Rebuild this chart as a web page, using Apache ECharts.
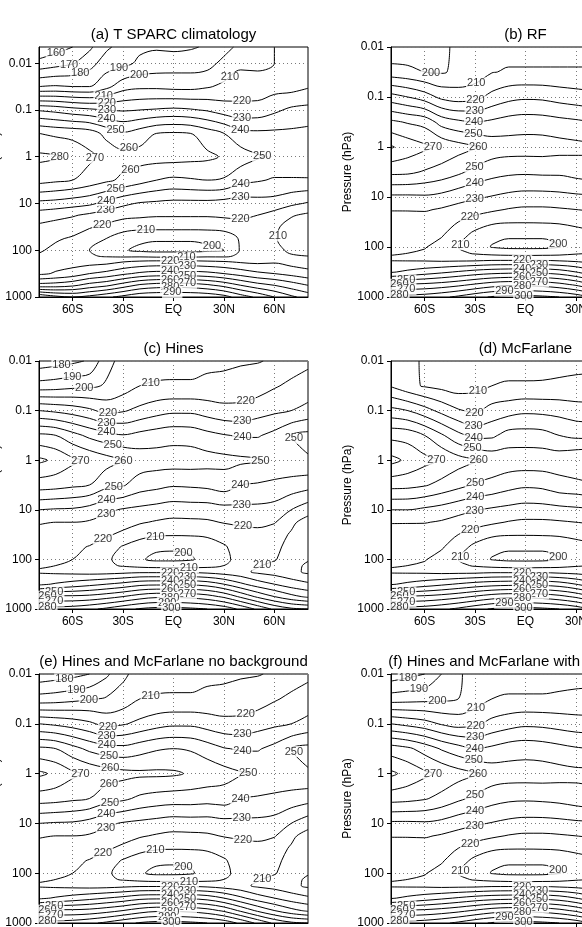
<!DOCTYPE html>
<html>
<head>
<meta charset="utf-8">
<script src="https://cdn.jsdelivr.net/npm/echarts@6/dist/echarts.min.js"></script>
<style>
  html, body { margin: 0; padding: 0; background: #fff; }
  #chart { width: 582px; height: 927px; }
</style>
</head>
<body>
<div id="chart"></div>
<script>
// latitude columns of the temperature grids (deg, negative = south)
const lats = [-80, -70, -60, -50, -40, -30, -20, -10, 0, 10, 20, 30, 40, 50, 60, 70, 80]
// panels b, d, f are cut off at the right edge of the figure
const latsCut = [-80, -70, -60, -50, -40, -30, -20, -10, 0, 10, 20, 30, 40]
// pressure levels of the grid rows (hPa), surface first
const levelsA = [1000, 562, 316, 178, 133, 100, 56.2, 31.6, 17.8, 10, 3.16, 1, 0.316, 0.1, 0.0316, 0.01, 0.0045]
const levels = [1000, 562, 316, 178, 133, 100, 56.2, 31.6, 17.8, 10, 3.16, 1, 0.316, 0.1, 0.0316, 0.01]
const contourLevels = [150, 160, 170, 180, 190, 200, 210, 220, 230, 240, 250, 260, 270, 280, 290, 300, 310]
const latTicks = [-60, -30, 0, 30, 60]
const latLabels = ['60S', '30S', 'EQ', '30N', '60N']
const pTicks = [1000, 100, 10, 1, 0.1, 0.01]
const pLabels = ['1000', '100', '10', '1', '0.1', '0.01']
const titles = [
  '(a) T SPARC climatology',
  '(b) RF',
  '(c) Hines',
  '(d) McFarlane',
  '(e) Hines and McFarlane no background',
  '(f) Hines and McFarlane with background'
]

// zonal mean temperature (K), one row per pressure level
const tempA = [
  [290, 283, 280, 283, 288, 293, 298, 299, 299, 299, 298, 294, 285, 278, 270, 262, 256],
  [244, 245, 248, 254, 258, 265, 272, 275, 276, 275, 272, 267, 260, 254, 250, 245, 240],
  [218, 221, 224, 230, 233, 238, 242, 244, 244, 244, 243, 240, 236, 232, 230, 227, 224],
  [217, 216, 216, 216, 217, 220, 222, 223, 223, 223, 222, 221, 219, 218, 219, 216, 214],
  [219, 216, 214, 211, 209, 208, 208, 207, 207, 207, 208, 208, 212, 213, 215, 211, 210],
  [221, 218, 215, 210, 206, 201, 198, 197, 197, 197, 198, 200, 211, 212, 213, 208, 207],
  [224, 221, 219, 214, 210, 205, 202, 201, 201, 201, 202, 205, 211, 213, 211, 205, 203],
  [228, 226, 224, 221, 218, 214, 213, 213, 213, 213, 213, 213, 216, 215, 212, 206, 203],
  [235, 233, 231, 228, 225, 223, 222, 221, 221, 221, 221, 222, 222, 220, 216, 211, 208],
  [247, 246, 244, 242, 237, 232, 229, 228, 227, 227, 227, 226, 225, 226, 226, 222, 219],
  [274, 272, 270, 266, 262, 258, 254, 250, 248, 249, 250, 249, 243, 241, 239, 239, 239],
  [282, 281, 277, 272, 267, 264, 264, 264, 264, 263, 262, 259, 255, 251, 248, 248, 249],
  [270, 268, 267, 265, 257, 251, 255, 260, 261, 260, 255, 250, 243, 242, 242, 242, 243],
  [239, 237, 234, 232, 230, 229, 230, 231, 232, 231, 229, 225, 223, 224, 228, 232, 233],
  [190, 191, 190, 190, 197, 206, 208, 208, 207, 207, 209, 212, 215, 214, 216, 216, 219],
  [163, 166, 169, 176, 185, 187, 192, 194, 195, 195, 196, 203, 208, 208, 210, 211, 211],
  [152, 156, 160, 168, 178, 184, 188, 189, 188, 189, 191, 196, 203, 207, 210, 211, 211]
]
const tempB = [
  [285, 284, 285, 288, 292, 297, 301, 303, 303, 302, 300, 296, 289],
  [260, 261, 262, 264, 267, 271, 275, 277, 277, 276, 273, 268, 260],
  [229, 232, 235, 238, 241, 244, 246, 247, 247.5, 247, 245, 240, 233],
  [219, 218.5, 218, 217, 217, 217, 218, 218, 218, 218, 217, 216, 215],
  [220.5, 220, 219, 216, 212, 209, 207, 206, 205.5, 206, 207, 209, 210],
  [222, 221.5, 220.5, 217, 210, 205, 199.5, 198, 198, 198, 199.5, 205, 208],
  [223.5, 223, 222, 221, 215, 207, 202, 201, 201, 201, 202, 206, 208],
  [226, 225.5, 224.5, 225, 220, 216, 212, 210.7, 210.6, 210.8, 211.4, 212.5, 214],
  [230.5, 230.6, 231, 229, 226.5, 223.6, 221.6, 219.4, 218.3, 218.3, 219, 220, 221],
  [238, 238, 238.5, 237, 233.7, 231.4, 229.4, 227.4, 226.3, 226.3, 227, 228, 228.5],
  [262.5, 262, 259, 256, 252, 247, 243.7, 242, 241.5, 242, 242, 244, 246],
  [281, 276, 272, 268, 264, 261, 256, 255, 255, 255, 254, 253, 252],
  [262, 259, 256.5, 246, 242, 240, 241.7, 244, 245, 244.5, 243, 241.7, 240],
  [234, 230, 225, 217.5, 215, 217, 223, 227, 228.4, 228, 226, 224.4, 223],
  [204, 202.5, 200, 199, 202, 204, 209.5, 211, 211, 211, 211, 211, 211],
  [192, 193, 195, 198, 202, 205, 206, 206, 206, 206, 206, 206, 206]
]
const tempC = [
  [285, 284, 285, 288, 292, 297, 301, 303, 303, 302, 300, 296, 288, 278, 268, 262, 260],
  [260, 262, 262, 263, 266, 270, 275, 278, 278, 277, 274, 268, 258, 248, 240, 233, 228],
  [228, 231, 234, 237, 240, 243, 247, 248, 248, 248, 246, 240, 232, 225, 220, 215, 212],
  [219, 218, 217, 216, 216, 217, 218, 218, 218, 218, 217, 215, 213, 208, 206, 203, 198],
  [221, 220, 218, 215, 212, 209, 207, 206, 206, 206, 207, 210, 213, 211, 207, 202, 199],
  [222, 221, 220, 217, 212, 206, 201, 198, 198, 199, 203, 208, 213, 212, 211, 204, 200.5],
  [224, 223, 221.5, 219.6, 215, 209, 204.5, 201.5, 201, 201.5, 205, 209, 214, 215, 213, 206, 202],
  [226, 226, 225, 223.4, 221.3, 218, 213.5, 211.3, 210.8, 211, 211.5, 213.5, 216, 217, 214, 209, 204],
  [231, 230, 230, 229, 226, 223.6, 221, 219, 217.8, 218, 218.6, 220.6, 221.7, 222.4, 220.8, 212, 206],
  [240, 239, 238.6, 236, 232, 229, 227.5, 226, 224.5, 225, 225, 226.5, 227.3, 227.3, 226, 220, 214],
  [265, 264, 262, 260, 253, 251, 245, 243, 241, 241.5, 242.5, 245, 240, 239, 238, 236, 234],
  [282, 278, 272, 268, 264, 260.5, 256, 255, 255, 255, 254, 253, 252, 251, 247, 248, 249],
  [262, 260, 253.5, 247.6, 243.5, 240.5, 243, 245, 246.5, 246, 243, 240.6, 239, 239, 243, 250, 253],
  [230, 228, 225.5, 222, 216.7, 219, 222.5, 226, 228, 228, 225.5, 223, 223, 226, 228, 230, 233],
  [194, 195, 197, 198, 201, 205, 210, 211, 211, 211, 212, 213, 214, 215, 219, 222, 224],
  [174, 176, 178, 181, 197, 203, 205, 206, 207, 207, 208, 208, 209, 209.5, 211, 215, 218]
]
const tempD = [
  [284, 284, 285, 288, 292, 297, 301, 303, 303, 302, 300, 296, 289],
  [260, 261, 262, 264, 267, 271, 275, 277, 277, 276, 273, 268, 260],
  [229, 232, 235, 238, 241, 244, 246, 247, 247.5, 247, 245, 240, 233],
  [219, 218.5, 218, 217, 217, 217, 218, 218, 218, 218, 217, 216, 215],
  [220.5, 220, 219, 216, 212, 209, 207, 206, 205.5, 206, 207, 209, 210],
  [222, 221.5, 220.5, 217, 210, 205, 199.5, 198, 198, 198, 199.5, 205, 208],
  [223.5, 223, 222, 221, 215, 207, 202, 201, 201, 201, 202, 206, 208],
  [226, 225.5, 224.5, 225, 220, 216, 212, 210.7, 210.6, 210.8, 211.4, 212.5, 214],
  [230.5, 230.5, 230.5, 229, 226.5, 223.6, 221.6, 219.4, 218.3, 218.3, 219, 220, 221],
  [240, 240, 238, 236, 233, 230.5, 228.5, 227, 225.7, 226, 227, 228, 229],
  [263.5, 263, 261, 257, 253, 249, 247, 243.6, 241.7, 242.5, 246, 247, 249],
  [283, 278, 273, 269, 264, 261, 257, 256, 256, 256, 256, 259, 261],
  [267, 266, 260, 251.5, 242.8, 237, 238, 244, 244.3, 243.6, 240, 237.5, 237],
  [243, 240, 234, 227, 221, 218, 223.8, 226, 228, 227.5, 226.5, 224.5, 224],
  [219, 213, 209, 207, 205, 207, 210, 211, 211, 211, 211.5, 212, 212],
  [215, 212, 209, 207, 206, 206, 206, 206, 206, 206.5, 207, 207.5, 208]
]
const tempE = [
  [285, 284, 285, 288, 292, 297, 301, 303, 303, 302, 300, 296, 288, 278, 268, 262, 260],
  [260, 262, 262, 263, 266, 270, 275, 278, 278, 277, 274, 268, 258, 248, 240, 233, 228],
  [228, 231, 234, 237, 240, 243, 247, 248, 248, 248, 246, 240, 232, 225, 220, 215, 212],
  [219, 218, 217, 216, 216, 217, 218, 218, 218, 218, 217, 215, 213, 208, 206, 203, 198],
  [221, 220, 218, 215, 212, 209, 207, 206, 206, 206, 207, 210, 213, 211, 207, 202, 199],
  [222, 221, 220, 217, 212, 206, 201, 198, 198, 199, 203, 208, 213, 212, 211, 204, 200.5],
  [224, 223, 221.5, 219.6, 215, 209, 204.5, 201.5, 201, 201.5, 205, 209, 214, 215, 213, 206, 202],
  [226, 226, 225, 223.4, 221.3, 218, 213.5, 211.3, 210.8, 211, 211.5, 213.5, 216, 217, 214, 209, 204],
  [231, 230, 230, 229, 226, 223.6, 221, 219, 217.8, 218, 218.6, 220.6, 221.7, 222.4, 220.8, 212, 206],
  [240, 239, 238.6, 236, 232, 229, 227.5, 226, 224.5, 225, 225, 226.5, 227.3, 227.3, 226, 220, 214],
  [265, 264, 262, 260, 254, 252, 248, 246, 245, 245, 244, 245, 240, 239, 238, 236, 234],
  [282, 278, 272, 268, 265, 263, 262, 262, 261.5, 259, 257, 254, 251, 249, 247, 248, 249],
  [262, 260, 253.5, 247.6, 244, 243, 246, 249, 250, 249, 245, 240.6, 239, 239, 243, 250, 253],
  [230, 228, 225.5, 222, 216.7, 219, 222.5, 226, 228, 228, 225.5, 223, 223, 226, 228, 230, 233],
  [194, 195, 197, 199, 201, 204, 210, 211, 211, 211, 212, 213, 214, 215, 219, 222, 224],
  [173, 175, 177, 180, 188, 198, 204, 206, 207, 207, 208, 208, 209, 209.5, 211, 215, 218]
]
const tempF = [
  [285, 284, 285, 288, 292, 297, 301, 303, 303, 302, 300, 296, 289],
  [260, 261, 262, 264, 267, 271, 275, 277, 277, 276, 273, 268, 260],
  [229, 232, 235, 238, 241, 244, 246, 247, 247.5, 247, 245, 240, 233],
  [219, 218.5, 218, 217, 217, 217, 218, 218, 218, 218, 217, 216, 215],
  [220.5, 220, 219, 216, 212, 209, 207, 206, 205.5, 206, 207, 209, 210],
  [222, 221.5, 220.5, 217, 210, 205, 199.5, 198, 198, 198, 199.5, 205, 208],
  [223.5, 223, 222, 221, 215, 207, 202, 201, 201, 201, 202, 206, 208],
  [226, 225.5, 224.5, 225, 220, 216, 212, 210.7, 210.6, 210.8, 211.4, 212.5, 214],
  [230.5, 230.6, 231, 229, 226.5, 223.6, 221.6, 219.4, 218.3, 218.3, 219, 220, 221],
  [238, 238, 238.5, 237, 233.7, 231.4, 229.4, 227.4, 226.3, 226.3, 227, 228, 228.5],
  [264, 263, 261, 257, 252, 248, 244, 242, 241.5, 242, 243, 245, 247],
  [282, 277, 272, 268, 264, 261, 256, 255, 255, 255, 254, 253, 253],
  [265, 262, 256, 249, 244, 240, 242, 245, 246, 245, 243, 241, 240],
  [230, 227, 224, 219, 216, 218, 223, 226, 228, 227.5, 226, 224.5, 224],
  [195, 196, 197, 198, 200, 205, 210, 211, 211, 211, 211.5, 212, 212],
  [174, 177, 180, 190, 199, 203, 205, 206, 206, 206, 206.5, 207, 207.5]
]

const FONT = '"Liberation Sans", Arial, sans-serif'
const PLOT_W = 269
const panels = [
  { temp: tempA, lat: lats, pres: levelsA, left: 39, top: 47, height: 250, titleY: 35, cornerLabels: false },
  { temp: tempB, lat: latsCut, pres: levels, left: 391, top: 47, height: 250, titleY: 35, cornerLabels: true },
  { temp: tempC, lat: lats, pres: levels, left: 39, top: 361, height: 248, titleY: 349, cornerLabels: true },
  { temp: tempD, lat: latsCut, pres: levels, left: 391, top: 361, height: 248, titleY: 349, cornerLabels: true },
  { temp: tempE, lat: lats, pres: levels, left: 39, top: 674, height: 249, titleY: 662, cornerLabels: true },
  { temp: tempF, lat: latsCut, pres: levels, left: 391, top: 674, height: 249, titleY: 662, cornerLabels: true }
]

// marching squares on the (lat, log10 p) grid, segments joined into polylines
function traceContours(xs, ys, z, level) {
  const segs = []
  for (let j = 0; j < ys.length - 1; j++) {
    for (let i = 0; i < xs.length - 1; i++) {
      const v = [z[j][i], z[j][i + 1], z[j + 1][i + 1], z[j + 1][i]]
      const c = [[xs[i], ys[j]], [xs[i + 1], ys[j]], [xs[i + 1], ys[j + 1]], [xs[i], ys[j + 1]]]
      const keys = ['h' + i + '_' + j, 'v' + (i + 1) + '_' + j, 'h' + i + '_' + (j + 1), 'v' + i + '_' + j]
      const hits = []
      for (let k = 0; k < 4; k++) {
        const a = v[k]
        const b = v[(k + 1) % 4]
        if ((a >= level) !== (b >= level)) {
          const t = (level - a) / (b - a)
          const pa = c[k]
          const pb = c[(k + 1) % 4]
          hits.push({ key: keys[k], p: [pa[0] + t * (pb[0] - pa[0]), pa[1] + t * (pb[1] - pa[1])] })
        }
      }
      if (hits.length === 2) {
        segs.push([hits[0], hits[1]])
      } else if (hits.length === 4) {
        const centerAbove = (v[0] + v[1] + v[2] + v[3]) / 4 >= level
        if ((v[0] >= level) === centerAbove) {
          segs.push([hits[0], hits[1]], [hits[2], hits[3]])
        } else {
          segs.push([hits[3], hits[0]], [hits[1], hits[2]])
        }
      }
    }
  }
  const byKey = {}
  segs.forEach((s, idx) => s.forEach(h => { (byKey[h.key] = byKey[h.key] || []).push(idx) }))
  const used = segs.map(() => false)
  const extend = (pts, key, atEnd) => {
    for (;;) {
      const next = (byKey[key] || []).find(k => !used[k])
      if (next === undefined) return
      used[next] = true
      const other = segs[next][0].key === key ? segs[next][1] : segs[next][0]
      if (atEnd) pts.push(other.p)
      else pts.unshift(other.p)
      key = other.key
    }
  }
  const lines = []
  segs.forEach((s, idx) => {
    if (used[idx]) return
    used[idx] = true
    const pts = [s[0].p, s[1].p]
    extend(pts, s[1].key, true)
    extend(pts, s[0].key, false)
    lines.push(pts)
  })
  return lines
}

// label positions spread along a line, measured in screen pixels
function labelSpots(pts, sx, sy, spacing) {
  const seg = []
  let total = 0
  for (let i = 1; i < pts.length; i++) {
    const d = Math.hypot((pts[i][0] - pts[i - 1][0]) * sx, (pts[i][1] - pts[i - 1][1]) * sy)
    seg.push(d)
    total += d
  }
  if (total < 28) return []
  const n = Math.max(1, Math.round(total / spacing))
  const out = []
  for (let k = 0; k < n; k++) {
    const target = total * (k + 0.5) / n
    let acc = 0
    for (let i = 0; i < seg.length; i++) {
      if (acc + seg[i] >= target) {
        const t = seg[i] ? (target - acc) / seg[i] : 0
        out.push([pts[i][0] + t * (pts[i + 1][0] - pts[i][0]), pts[i][1] + t * (pts[i + 1][1] - pts[i][1])])
        break
      }
      acc += seg[i]
    }
  }
  return out
}

// point where a line crosses a given latitude
function atLat(pts, lat) {
  for (let i = 1; i < pts.length; i++) {
    const a = pts[i - 1]
    const b = pts[i]
    if ((a[0] - lat) * (b[0] - lat) <= 0 && a[0] !== b[0]) {
      const t = (lat - a[0]) / (b[0] - a[0])
      return [lat, a[1] + t * (b[1] - a[1])]
    }
  }
  return null
}

const grid = []
const xAxis = []
const yAxis = []
const series = []
const graphic = []
const axisText = { color: '#000', fontSize: 12, fontFamily: FONT }
const dotted = { show: true, lineStyle: { color: '#7a7a7a', width: 1, type: [1, 3] } }

panels.forEach((pn, k) => {
  const ys = pn.pres.map(Math.log10)
  const yTop = Math.min(...ys)
  const yBottom = Math.max(...ys)
  grid.push({
    left: pn.left, top: pn.top, width: PLOT_W, height: pn.height,
    show: true, borderColor: '#000', borderWidth: 1,
    containLabel: false, outerBoundsMode: 'none'
  })
  xAxis.push({
    gridIndex: k, type: 'value', min: -80, max: 80,
    axisLine: { show: true, onZero: false, lineStyle: { color: '#000', width: 1 } },
    axisTick: { show: true, length: 4, customValues: latTicks, lineStyle: { color: '#000' } },
    axisLabel: Object.assign({ margin: 7, customValues: latTicks, formatter: v => latLabels[latTicks.indexOf(v)] || '' }, axisText),
    splitLine: dotted
  })
  yAxis.push({
    gridIndex: k, type: 'value', min: yTop, max: yBottom, inverse: true,
    name: 'Pressure (hPa)', nameLocation: 'middle', nameRotate: 90, nameGap: 37,
    nameTextStyle: axisText,
    axisLine: { show: true, onZero: false, lineStyle: { color: '#000', width: 1 } },
    axisTick: { show: true, length: 4, customValues: pTicks.map(Math.log10), lineStyle: { color: '#000' } },
    axisLabel: Object.assign({
      margin: 7,
      customValues: pTicks.map(Math.log10),
      formatter: v => {
        const i = pTicks.findIndex(p => Math.abs(Math.log10(p) - v) < 1e-6)
        return i < 0 ? '' : pLabels[i]
      }
    }, axisText),
    splitLine: dotted
  })

  const sx = PLOT_W / 160
  const sy = pn.height / (yBottom - yTop)
  // right-hand panels run off the picture: only label what can be seen
  const visMax = pn.left + PLOT_W > 582 ? -80 + (572 - pn.left) / sx : 80
  const labels = []
  contourLevels.forEach(level => {
    traceContours(pn.lat, ys, pn.temp, level).forEach(line => {
      series.push({
        type: 'line', xAxisIndex: k, yAxisIndex: k, data: line,
        symbol: 'none', smooth: 0.35, silent: true, z: 2,
        lineStyle: { color: '#000', width: 1 }
      })
      const odd = (level / 10) % 2 === 1
      // the packed tropospheric lines get their labels stacked near the equator
      const spanLat = Math.max(...line.map(p => p[0])) - Math.min(...line.map(p => p[0]))
      if (line.every(p => p[1] > 2.12) && spanLat > 100) {
        const targets = [odd ? 8 : -2]
        if (pn.cornerLabels && level >= 250) targets.push(odd ? -71 : -75)
        targets.forEach(t => {
          const p = atLat(line, t)
          if (p) labels.push([p[0], p[1], level])
        })
        return
      }
      let run = []
      const flush = () => {
        if (run.length > 1) labelSpots(run, sx, sy, 170).forEach(p => labels.push([p[0], p[1], level]))
        run = []
      }
      line.forEach(p => { if (p[0] <= visMax) run.push(p); else flush() })
      flush()
    })
  })
  series.push({
    type: 'scatter', xAxisIndex: k, yAxisIndex: k, data: labels,
    symbolSize: 1, itemStyle: { color: 'rgba(0,0,0,0)' }, silent: true, z: 5,
    label: {
      show: true, position: 'inside', formatter: p => p.data[2],
      color: '#000', fontSize: 11, fontFamily: FONT,
      backgroundColor: '#fff', padding: [0, 1, 0, 1], lineHeight: 11
    }
  })

  graphic.push({
    type: 'text', x: pn.left + PLOT_W / 2, y: pn.titleY, silent: true,
    style: { text: titles[k], fill: '#000', fontSize: 15, fontFamily: FONT, textAlign: 'center', textVerticalAlign: 'middle' }
  })
})

const chart = echarts.init(document.getElementById('chart'))
chart.setOption({
  animation: false,
  backgroundColor: '#fff',
  grid: grid,
  xAxis: xAxis,
  yAxis: yAxis,
  series: series,
  graphic: graphic
})
</script>
</body>
</html>
